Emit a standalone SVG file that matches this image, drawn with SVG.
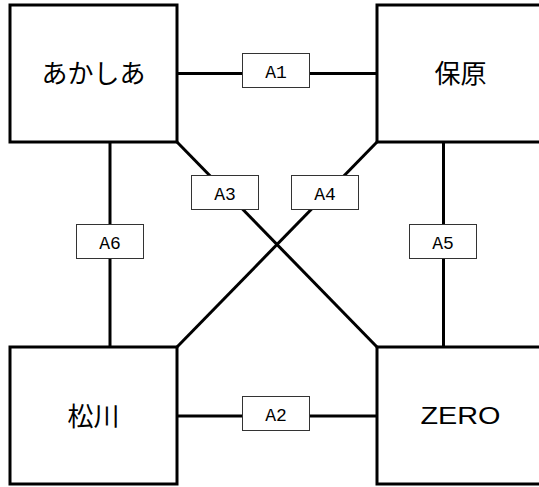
<svg xmlns="http://www.w3.org/2000/svg" width="539" height="487" viewBox="0 0 539 487">
<style>
.node rect{fill:#fff;stroke:#000;stroke-width:3}
.node text{font-family:"Noto Sans CJK JP","Liberation Sans",sans-serif;font-size:26px;fill:#000;text-anchor:middle}
.edge{stroke:#000;stroke-width:3;fill:none}
.lbl rect{fill:#fff;stroke:#333;stroke-width:1}
</style>
<defs>
<style>
.lt{font-family:'Liberation Mono','Courier New',monospace;font-size:18px;fill:#000;text-anchor:middle}
</style>
</defs>
<rect width="539" height="487" fill="#fff"/>
<g id="connectors">
<line class="edge" x1="177" y1="73.5" x2="377" y2="73.5"/>
<line class="edge" x1="177" y1="416" x2="377" y2="416"/>
<line class="edge" x1="177" y1="142" x2="377" y2="347"/>
<line class="edge" x1="377" y1="142" x2="177" y2="347"/>
<line class="edge" x1="110" y1="142" x2="110" y2="347"/>
<line class="edge" x1="443.5" y1="142" x2="443.5" y2="347"/>
<g id="label-A1" class="lbl"><rect x="242.5" y="53.5" width="67" height="34"/><text class="lt" x="276" y="77.5" font-family="Liberation Mono, monospace" font-size="18">A1</text></g>
<g id="label-A2" class="lbl"><rect x="242.5" y="396.5" width="67" height="34"/><text class="lt" x="276" y="420.5" font-family="Liberation Mono, monospace" font-size="18">A2</text></g>
<g id="label-A3" class="lbl"><rect x="191.5" y="175.5" width="67" height="34"/><text class="lt" x="225" y="199.5" font-family="Liberation Mono, monospace" font-size="18">A3</text></g>
<g id="label-A4" class="lbl"><rect x="291.5" y="175.5" width="67" height="34"/><text class="lt" x="325" y="199.5" font-family="Liberation Mono, monospace" font-size="18">A4</text></g>
<g id="label-A6" class="lbl"><rect x="76.5" y="224.5" width="67" height="34"/><text class="lt" x="110" y="248.5" font-family="Liberation Mono, monospace" font-size="18">A6</text></g>
<g id="label-A5" class="lbl"><rect x="409.5" y="224.5" width="67" height="34"/><text class="lt" x="443" y="248.5" font-family="Liberation Mono, monospace" font-size="18">A5</text></g>
</g>
<g id="node-akashia" class="node"><rect x="10" y="5" width="167" height="137"/><text x="93.5" y="82.5">あかしあ</text></g>
<g id="node-hohara" class="node"><rect x="377" y="5" width="167" height="137"/><text x="460.5" y="82.5">保原</text></g>
<g id="node-matsukawa" class="node"><rect x="10" y="347" width="167" height="137"/><text x="93.5" y="425.5">松川</text></g>
<g id="node-zero" class="node"><rect x="377" y="347" width="167" height="137"/><text x="460.5" y="423.7" style="font-family:'Liberation Sans',sans-serif;font-size:23px" textLength="80" lengthAdjust="spacingAndGlyphs">ZERO</text></g>
</svg>
